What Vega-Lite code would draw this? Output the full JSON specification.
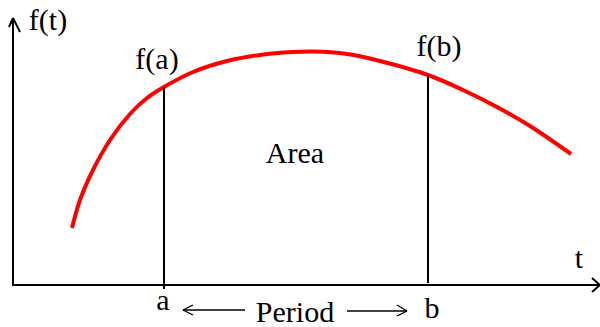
{
  "$schema": "https://vega.github.io/schema/vega-lite/v6.json",
  "width": 600,
  "height": 327,
  "autosize": {"type": "none"},
  "padding": 0,
  "background": "white",
  "config": {"view": {"stroke": null}},
  "datasets": {
    "axes": [
      {"x": 13, "y": 18, "x2": 13, "y2": 285},
      {"x": 12, "y": 285, "x2": 600, "y2": 285},
      {"x": 13, "y": 18, "x2": 9, "y2": 27},
      {"x": 13, "y": 18, "x2": 20, "y2": 32},
      {"x": 600, "y": 285, "x2": 592, "y2": 278},
      {"x": 600, "y": 285, "x2": 592, "y2": 292}
    ],
    "verticals": [
      {"x": 164, "y": 87, "x2": 164, "y2": 289},
      {"x": 428, "y": 75, "x2": 428, "y2": 283}
    ],
    "period": [
      {"x": 183, "y": 310, "x2": 245, "y2": 310},
      {"x": 183, "y": 310, "x2": 193, "y2": 305},
      {"x": 183, "y": 310, "x2": 193, "y2": 315},
      {"x": 347, "y": 311, "x2": 407, "y2": 311},
      {"x": 407, "y": 311, "x2": 397, "y2": 305},
      {"x": 407, "y": 311, "x2": 397, "y2": 316}
    ],
    "curve": [
      {"t": 72, "f": 228},
      {"t": 80, "f": 200},
      {"t": 93, "f": 170},
      {"t": 110, "f": 140},
      {"t": 130, "f": 114},
      {"t": 147, "f": 98},
      {"t": 164, "f": 87},
      {"t": 193, "f": 72},
      {"t": 227, "f": 61},
      {"t": 260, "f": 55},
      {"t": 293, "f": 52},
      {"t": 313, "f": 51.5},
      {"t": 347, "f": 54},
      {"t": 380, "f": 61},
      {"t": 428, "f": 75},
      {"t": 463, "f": 90},
      {"t": 497, "f": 107},
      {"t": 530, "f": 126},
      {"t": 571, "f": 154}
    ],
    "labels": [
      {"x": 48, "y": 30, "label": "f(t)"},
      {"x": 157, "y": 69, "label": "f(a)"},
      {"x": 439, "y": 56, "label": "f(b)"},
      {"x": 295, "y": 163, "label": "Area"},
      {"x": 579, "y": 268, "label": "t"},
      {"x": 163, "y": 310, "label": "a"},
      {"x": 295, "y": 322, "label": "Period"},
      {"x": 432, "y": 318, "label": "b"}
    ]
  },
  "layer": [
    {
      "data": {"name": "curve"},
      "mark": {"type": "line", "color": "#ff0000", "strokeWidth": 4, "interpolate": "catmull-rom"},
      "encoding": {
        "x": {"field": "t", "type": "quantitative", "scale": {"domain": [0, 600], "nice": false, "zero": false}, "axis": null},
        "y": {"field": "f", "type": "quantitative", "scale": {"domain": [0, 327], "reverse": true, "nice": false, "zero": false}, "axis": null}
      }
    },
    {
      "data": {"name": "axes"},
      "mark": {"type": "rule", "color": "black", "strokeWidth": 2},
      "encoding": {
        "x": {"field": "x", "type": "quantitative"},
        "y": {"field": "y", "type": "quantitative"},
        "x2": {"field": "x2"},
        "y2": {"field": "y2"}
      }
    },
    {
      "data": {"name": "verticals"},
      "mark": {"type": "rule", "color": "black", "strokeWidth": 2},
      "encoding": {
        "x": {"field": "x", "type": "quantitative"},
        "y": {"field": "y", "type": "quantitative"},
        "x2": {"field": "x2"},
        "y2": {"field": "y2"}
      }
    },
    {
      "data": {"name": "period"},
      "mark": {"type": "rule", "color": "black", "strokeWidth": 1.3},
      "encoding": {
        "x": {"field": "x", "type": "quantitative"},
        "y": {"field": "y", "type": "quantitative"},
        "x2": {"field": "x2"},
        "y2": {"field": "y2"}
      }
    },
    {
      "data": {"name": "labels"},
      "mark": {"type": "text", "font": "Liberation Serif", "fontSize": 30, "color": "black", "align": "center", "baseline": "alphabetic"},
      "encoding": {
        "x": {"field": "x", "type": "quantitative"},
        "y": {"field": "y", "type": "quantitative"},
        "text": {"field": "label"}
      }
    }
  ]
}
